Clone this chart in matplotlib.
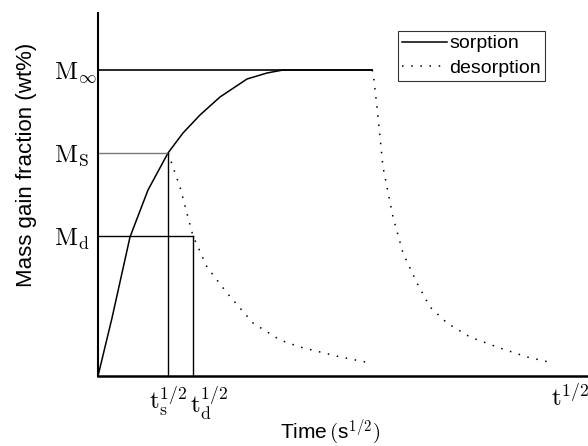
import matplotlib
matplotlib.use("Agg")
import matplotlib.pyplot as plt
from matplotlib.transforms import ScaledTranslation

plt.rcParams['font.family'] = ['Liberation Sans', 'DejaVu Sans']
plt.rcParams['mathtext.fontset'] = 'cm'

# schematic curve, arbitrary units (time^1/2 vs mass gain)
sorp_x = [0, 14, 32, 50, 70, 85, 102, 122, 149, 169, 185, 274]
sorp_y = [0, 58, 139, 186, 223, 243, 261, 279, 297, 303, 306, 306]

des1_x = [70, 82, 95, 109, 129, 155, 182, 202, 238, 272]
des1_y = [223, 189, 140, 109, 83, 53, 36, 29, 20, 13]

des2_x = [274, 275, 279, 285, 295, 305, 319, 332, 349, 372, 399, 429, 455]
des2_y = [306, 304, 269, 209, 159, 123, 93, 69, 53, 39, 29, 19, 13]

m_inf, m_s, m_d = 306, 223, 140
t_s, t_d, t_end = 70, 95, 472

fig = plt.figure(figsize=(5.88, 4.46), dpi=100)
ax = fig.add_axes([98/588, 70/446, 490/588, 363/446])

ax.plot(sorp_x, sorp_y, color='black', lw=1.1, label='sorption')
ax.plot(des1_x, des1_y, color='black', lw=1.1, ls=(0, (1, 5)), label='desorption')
ax.plot(des2_x, des2_y, color='black', lw=1.1, ls=(0, (1, 5)))

# guide lines
ax.plot([0, sorp_x[-1]], [m_inf, m_inf], color='black', lw=1.2)
ax.plot([0, t_s], [m_s, m_s], color='#777777', lw=1)
ax.plot([t_s, t_s], [0, m_s], color='black', lw=1)
ax.plot([0, t_d], [m_d, m_d], color='black', lw=1)
ax.plot([t_d, t_d], [0, m_d], color='black', lw=1)

ax.set_xlim(0, 490)
ax.set_ylim(0, 363)

ax.set_yticks([m_d, m_s, m_inf])
ax.set_yticklabels([r'$\mathrm{M}_{\mathrm{d}}$', r'$\mathrm{M}_{\mathrm{S}}$', r'$\mathrm{M}_{\infty}$'],
                   fontsize=18, ha='left')
ax.set_xticks([t_s, t_d, t_end])
ax.set_xticklabels([r'$\mathrm{t}_{\mathrm{s}}^{1/2}$', r'$\mathrm{t}_{\mathrm{d}}^{1/2}$', r'$\mathrm{t}^{1/2}$'],
                   fontsize=18)
ax.tick_params(axis='y', length=0, pad=32)
ax.tick_params(axis='x', length=0, pad=6)

# shift the td label right so it sits beside ts, as in the original
xl = ax.get_xticklabels()
xl[1].set_transform(xl[1].get_transform() + ScaledTranslation(16/100, 0, fig.dpi_scale_trans))

for s in ['top', 'right']:
    ax.spines[s].set_visible(False)
ax.spines['left'].set_linewidth(1.5)
ax.spines['bottom'].set_linewidth(1.8)

ax.set_ylabel('Mass gain fraction (wt%)', fontsize=16)
ax.yaxis.set_label_coords(-61/490, (376-165)/363)
ax.set_xlabel(r'Time$\,($s$^{1/2})$', fontsize=15)
ax.xaxis.set_label_coords(232/490, -41/363)

leg = ax.legend(loc='upper left', bbox_to_anchor=(300/490, 345/363), fontsize=14,
                frameon=True, fancybox=False, edgecolor='black', handlelength=2.3,
                borderpad=0.2, labelspacing=0.35, handletextpad=0.15, borderaxespad=0)
leg.get_frame().set_linewidth(0.8)

fig.savefig('out.png', dpi=100)
